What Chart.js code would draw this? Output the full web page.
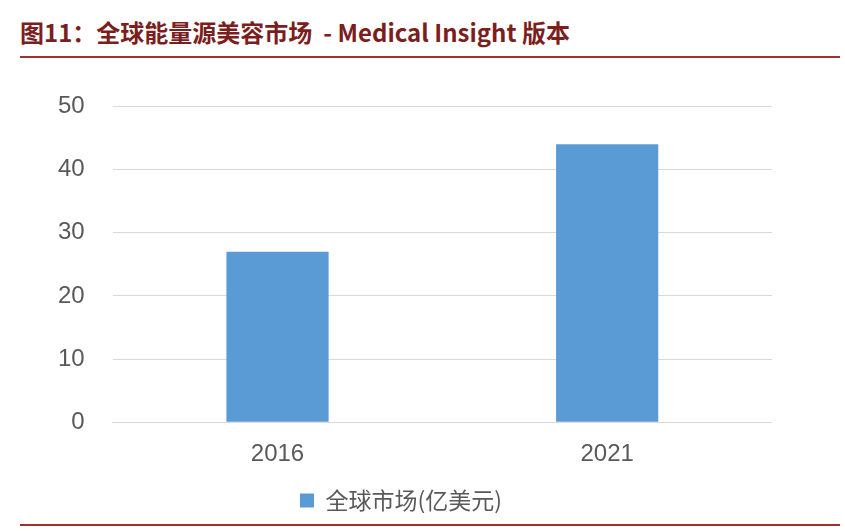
<!DOCTYPE html>
<html><head><meta charset="utf-8">
<script src="https://cdn.jsdelivr.net/npm/chart.js@4"></script>
<style>
body{margin:0;background:#fff;width:845px;height:531px;position:relative;overflow:hidden}
#title{position:absolute;left:20px;top:14px;font:bold 24px "Noto Sans CJK SC","Liberation Sans",sans-serif;color:#7b1e1e;white-space:nowrap}
.rule{position:absolute;left:20px;width:820px;height:2px;background:#a0322a}
#wrap{position:absolute;left:0;top:64px;width:772px;height:458px}
</style></head><body>
<div id="title">图11：全球能量源美容市场 &nbsp;- Medical Insight 版本</div>
<div class="rule" style="top:56px"></div>
<div class="rule" style="top:524px"></div>
<div id="wrap"><canvas id="c"></canvas></div>
<script>
// data
const CATEGORIES = ["2016", "2021"];
const MARKET = [27, 44];
const SERIES_NAME = "全球市场(亿美元)";

new Chart(document.getElementById("c"), {
    type: "bar",
    data: {
        labels: CATEGORIES,
        datasets: [{ label: SERIES_NAME, data: MARKET, backgroundColor: "#5b9bd5",
                     categoryPercentage: 0.62, barPercentage: 0.5 }],
    },
    options: {
        responsive: true, maintainAspectRatio: false, animation: false,
        layout: { padding: { left: 30, top: 2 } },
        plugins: {
            legend: { position: "bottom",
                labels: { boxWidth: 14, boxHeight: 14, color: "#595959",
                          font: { size: 23, family: "Noto Sans CJK SC" } } },
            tooltip: { enabled: false },
        },
        scales: {
            x: { grid: { display: false }, border: { color: "#d9d9d9" },
                 ticks: { color: "#595959", padding: 10, font: { size: 24, family: "Liberation Sans" } } },
            y: { min: 0, max: 50, ticks: { stepSize: 10, padding: 28, color: "#595959",
                     font: { size: 24, family: "Liberation Sans" } },
                 grid: { color: "#d9d9d9", drawTicks: false }, border: { display: false } },
        },
    },
});
</script>
</body></html>
